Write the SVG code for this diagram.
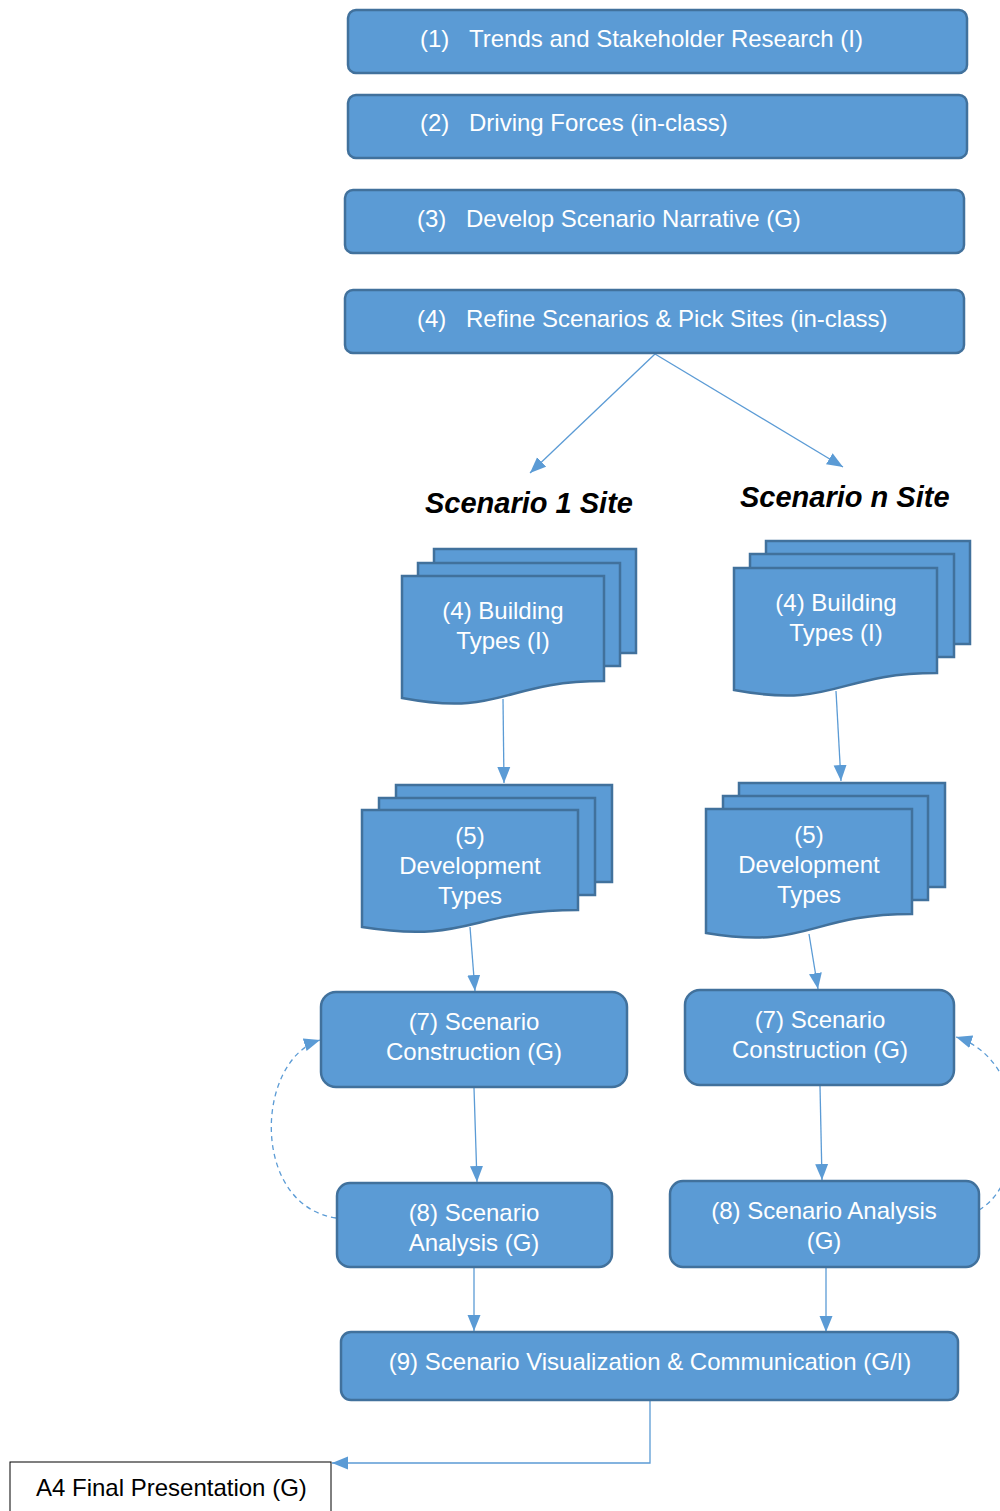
<svg xmlns="http://www.w3.org/2000/svg" width="1000" height="1511" viewBox="0 0 1000 1511">
<defs>
<style>
.box{fill:#5B9BD5;stroke:#41719C;stroke-width:2.5}
.t{font-family:"Liberation Sans",Arial,sans-serif;font-size:24px;fill:#fff}
.tc{text-anchor:middle}
.h{font-family:"Liberation Sans",Arial,sans-serif;font-size:29px;font-weight:bold;font-style:italic;fill:#000}
.ln{fill:none;stroke:#5B9BD5;stroke-width:1.3;marker-end:url(#ah)}
.dash{fill:none;stroke:#5B9BD5;stroke-width:1.3;stroke-dasharray:5,4;marker-end:url(#ah)}
</style>
<marker id="ah" markerUnits="userSpaceOnUse" markerWidth="17" markerHeight="14" refX="16" refY="6.5" orient="auto" viewBox="0 0 17 13">
<path d="M0,0 L16,6.5 L0,13 z" fill="#5B9BD5"/>
</marker>
</defs>

<g id="connectors">
<path class="ln" d="M655,354 L530,473"/>
<path class="ln" d="M655,354 L843,467"/>
<path class="ln" d="M503,699 L504,783"/>
<path class="ln" d="M836,691 L841,781"/>
<path class="ln" d="M470,927 L475,991"/>
<path class="ln" d="M809,934 L818,989"/>
<path class="ln" d="M474,1088 L477,1182"/>
<path class="ln" d="M820,1086 L822,1180"/>
<path class="ln" d="M474,1268 L474,1331"/>
<path class="ln" d="M826,1268 L826,1332"/>
<path class="ln" d="M650,1401 L650,1463 L332,1463"/>
<path class="dash" d="M336,1218 C250,1205 255,1060 320,1040"/>
<path class="dash" d="M979,1210 C1030,1180 1030,1060 956,1037"/>
</g>

<g id="n1">
<rect class="box" x="348" y="10" width="619" height="63" rx="8"/>
<text class="t" x="420" y="47">(1)</text>
<text class="t" x="469" y="47">Trends and Stakeholder Research (I)</text>
</g>
<g id="n2">
<rect class="box" x="348" y="95" width="619" height="63" rx="8"/>
<text class="t" x="420" y="131">(2)</text>
<text class="t" x="469" y="131">Driving Forces (in-class)</text>
</g>
<g id="n3">
<rect class="box" x="345" y="190" width="619" height="63" rx="8"/>
<text class="t" x="417" y="227">(3)</text>
<text class="t" x="466" y="227">Develop Scenario Narrative (G)</text>
</g>
<g id="n4">
<rect class="box" x="345" y="290" width="619" height="63" rx="8"/>
<text class="t" x="417" y="327">(4)</text>
<text class="t" x="466" y="327">Refine Scenarios &amp; Pick Sites (in-class)</text>
</g>

<g id="label1">
<text class="h" x="425" y="513">Scenario 1 Site</text>
</g>
<g id="labeln">
<text class="h" x="740" y="507">Scenario n Site</text>
</g>

<g id="n4a">
<rect class="box" x="434" y="549" width="202" height="104"/>
<rect class="box" x="418" y="563" width="202" height="103"/>
<path class="box" d="M402,576 H604 V681 C503,681 503,717 402,698 Z"/>
<text class="t tc" x="503" y="619">(4) Building</text>
<text class="t tc" x="503" y="649">Types (I)</text>
</g>
<g id="n4b">
<rect class="box" x="766" y="541" width="204" height="103"/>
<rect class="box" x="750" y="554" width="204" height="103"/>
<path class="box" d="M734,568 H937 V673 C836,673 836,709 734,690 Z"/>
<text class="t tc" x="836" y="611">(4) Building</text>
<text class="t tc" x="836" y="641">Types (I)</text>
</g>

<g id="n5a">
<rect class="box" x="396" y="785" width="216" height="97"/>
<rect class="box" x="379" y="798" width="216" height="97"/>
<path class="box" d="M362,810 H578 V910 C470,910 470,944 362,927 Z"/>
<text class="t tc" x="470" y="844">(5)</text>
<text class="t tc" x="470" y="874">Development</text>
<text class="t tc" x="470" y="904">Types</text>
</g>
<g id="n5b">
<rect class="box" x="739" y="783" width="206" height="104"/>
<rect class="box" x="723" y="796" width="205" height="104"/>
<path class="box" d="M706,809 H912 V914 C809,914 809,950 706,933 Z"/>
<text class="t tc" x="809" y="843">(5)</text>
<text class="t tc" x="809" y="873">Development</text>
<text class="t tc" x="809" y="903">Types</text>
</g>

<g id="n7a">
<rect class="box" x="321" y="992" width="306" height="95" rx="15"/>
<text class="t tc" x="474" y="1030">(7) Scenario</text>
<text class="t tc" x="474" y="1060">Construction (G)</text>
</g>
<g id="n7b">
<rect class="box" x="685" y="990" width="269" height="95" rx="15"/>
<text class="t tc" x="820" y="1028">(7) Scenario</text>
<text class="t tc" x="820" y="1058">Construction (G)</text>
</g>
<g id="n8a">
<rect class="box" x="337" y="1183" width="275" height="84" rx="13"/>
<text class="t tc" x="474" y="1221">(8) Scenario</text>
<text class="t tc" x="474" y="1251">Analysis (G)</text>
</g>
<g id="n8b">
<rect class="box" x="670" y="1181" width="309" height="86" rx="13"/>
<text class="t tc" x="824" y="1219">(8) Scenario Analysis</text>
<text class="t tc" x="824" y="1249">(G)</text>
</g>
<g id="n9">
<rect class="box" x="341" y="1332" width="617" height="68" rx="10"/>
<text class="t tc" x="650" y="1370">(9) Scenario Visualization &amp; Communication (G/I)</text>
</g>
<g id="a4">
<rect x="10" y="1462" width="321" height="60" fill="#fff" stroke="#000" stroke-width="1"/>
<text x="36" y="1496" font-family="'Liberation Sans',Arial,sans-serif" font-size="24" fill="#000">A4 Final Presentation (G)</text>
</g>
</svg>
